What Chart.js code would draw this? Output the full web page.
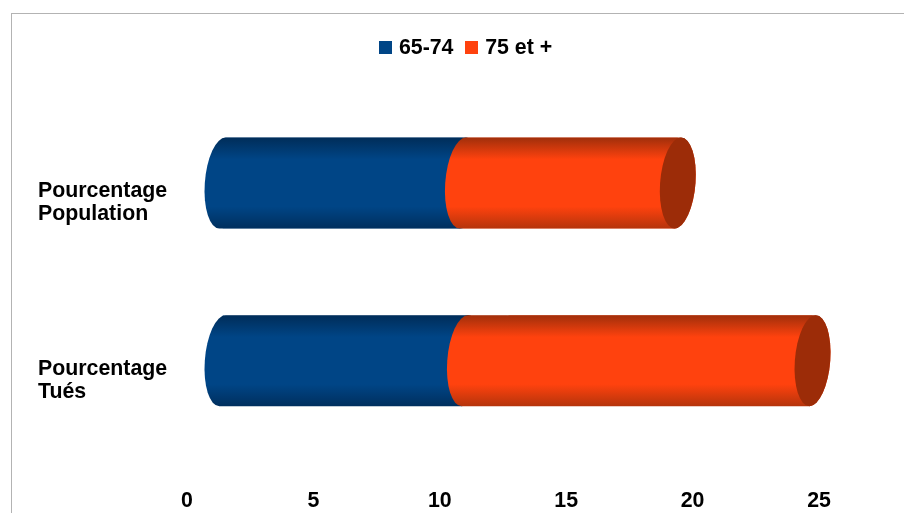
<!DOCTYPE html>
<html>
<head>
<meta charset="utf-8">
<script src="https://cdn.jsdelivr.net/npm/chart.js@4"></script>
<style>
html,body{margin:0;padding:0;background:#fff;overflow:hidden}
#frame{position:absolute;left:11px;top:13px;right:0;bottom:0;border-left:1px solid #b3b3b3;border-top:1px solid #b3b3b3}
#wrap{position:absolute;left:0;top:0;width:904px;height:513px}
</style>
</head>
<body>
<div id="frame"></div>
<div id="wrap"><canvas id="c" width="904" height="513"></canvas></div>
<script>
const categories = [["Pourcentage","Population"],["Pourcentage","Tués"]];
const seriesNames = ["65-74","75 et +"];
const values6574 = [9.51, 9.59];
const values75 = [8.50, 13.75];
const tickValues = [0,5,10,15,20,25];

const FONT = {family:"'Liberation Sans', Arial, sans-serif", size:21.33, weight:"bold"};
const BLUE = "#004586", ORANGE = "#ff420e", CAP = "#9c2c08";
const DEPTH_X = 35.5, DEPTH_Y = -19.9, SHEAR = 0.07, RX = 17.7;

function swatch(color){
  const s = document.createElement("canvas");
  s.width = 13; s.height = 13;
  const c = s.getContext("2d");
  c.fillStyle = color; c.fillRect(0,0,13,13);
  return s;
}
const swatches = [swatch(BLUE), swatch(ORANGE)];

function outline(ctx, el){
  const ry = el.height/2;
  ctx.save();
  ctx.transform(1,0,-SHEAR,1,0,el.y);
  ctx.ellipse(el.base,0,RX,ry,0,Math.PI/2,Math.PI*1.5);
  ctx.ellipse(el.x,0,RX,ry,0,-Math.PI/2,Math.PI/2);
  ctx.closePath();
  ctx.restore();
}
function shade(ctx, el, edgeTop, edgeBottom, mid){
  const g = ctx.createLinearGradient(0, el.y-el.height/2, 0, el.y+el.height/2);
  g.addColorStop(0, edgeTop);
  g.addColorStop(0.24, mid);
  g.addColorStop(0.76, mid);
  g.addColorStop(1, edgeBottom);
  return g;
}
const cylinders = {
  id:"cylinders",
  beforeDatasetsDraw(chart){
    const ctx = chart.ctx;
    ctx.save();
    ctx.translate(DEPTH_X, DEPTH_Y);
    ctx.beginPath();
    chart.data.datasets.forEach((d,i)=>chart.getDatasetMeta(i).data.forEach(el=>outline(ctx,el)));
    ctx.clip();
  },
  afterDatasetsDraw(chart){
    const ctx = chart.ctx;
    ctx.restore();
    ctx.save();
    ctx.translate(DEPTH_X, DEPTH_Y);
    const looks = [["#002d59","#002f5e",BLUE],["#a02f0b","#b5340c",ORANGE]];
    looks.forEach((look,i)=>{
      chart.getDatasetMeta(i).data.forEach(el=>{
        ctx.beginPath();
        outline(ctx,el);
        ctx.fillStyle = shade(ctx,el,look[0],look[1],look[2]);
        ctx.fill();
      });
    });
    chart.getDatasetMeta(1).data.forEach(el=>{
      ctx.save();
      ctx.transform(1,0,-SHEAR,1,0,el.y);
      ctx.beginPath();
      ctx.ellipse(el.x,0,RX,el.height/2,0,0,Math.PI*2);
      ctx.restore();
      ctx.fillStyle = CAP;
      ctx.fill();
    });
    ctx.restore();
  },
  afterLayout(chart){
    const l = chart.legend;
    l.left += 38.7; l.right += 38.7;
    l.top -= 45.34; l.bottom -= 45.34;
  }
};

new Chart(document.getElementById("c"),{
  type:"bar",
  data:{
    labels:categories,
    datasets:[
      {label:seriesNames[0],data:values6574,backgroundColor:BLUE,borderWidth:0},
      {label:seriesNames[1],data:values75,backgroundColor:ORANGE,borderWidth:0}
    ]
  },
  options:{
    indexAxis:"y",
    responsive:false,
    animation:false,
    layout:{padding:{left:38,right:85,top:67.67,bottom:0}},
    datasets:{bar:{categoryPercentage:1,barPercentage:0.511}},
    plugins:{
      tooltip:{enabled:false},
      legend:{
        position:"top",
        labels:{
          usePointStyle:true,pointStyleWidth:6,boxHeight:13,padding:15,color:"#000",font:FONT,
          generateLabels(chart){
            return Chart.defaults.plugins.legend.labels.generateLabels(chart)
              .map((item,i)=>({...item,pointStyle:swatches[i]}));
          }
        }
      }
    },
    scales:{
      x:{
        stacked:true,min:0,max:25,
        grid:{display:false},border:{display:false},
        afterBuildTicks(s){s.ticks=tickValues.map(v=>({value:v}));},
        afterFit(s){s.height=43.5;},
        ticks:{color:"#000",font:FONT,padding:11,maxRotation:0}
      },
      y:{
        stacked:true,
        grid:{display:false},border:{display:false},
        afterFit(s){s.width=149;},
        ticks:{color:"#000",font:{...FONT,lineHeight:1.1},crossAlign:"far",padding:0}
      }
    }
  },
  plugins:[cylinders]
});
</script>
</body>
</html>
